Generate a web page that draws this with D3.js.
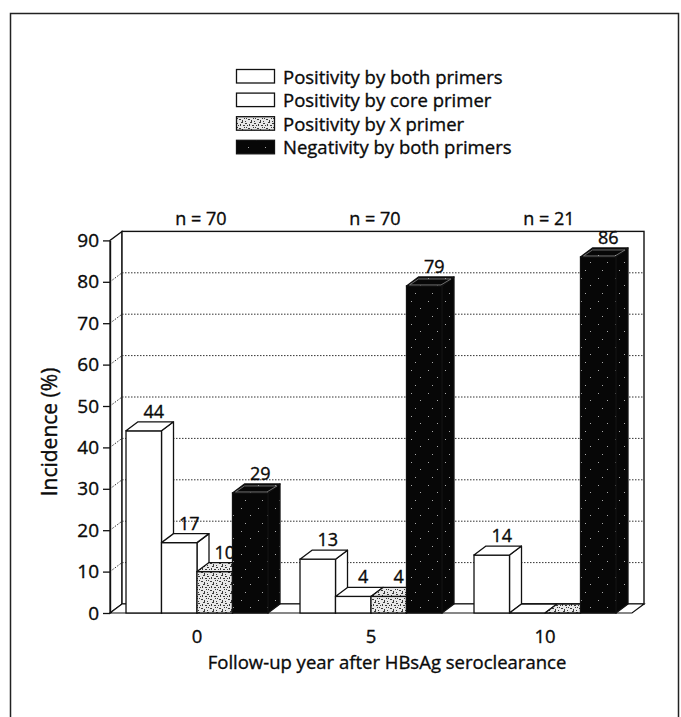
<!DOCTYPE html>
<html>
<head>
<meta charset="utf-8">
<script src="https://cdn.jsdelivr.net/npm/d3@7"></script>
<style>
  html, body { margin: 0; padding: 0; background: #fff; }
  svg text { font-family: "Open Sans", "DejaVu Sans", sans-serif; fill: #0a0a0a; font-weight: 400;
             stroke: #0a0a0a; stroke-width: 0.35px; }
</style>
</head>
<body>
<svg id="chart" width="681" height="717"></svg>
<script>
// Follow-up years and group sizes
const years = ["0", "5", "10"];
const groupSizes = ["n = 70", "n = 70", "n = 21"];

// Series (incidence, %)
const seriesNames = [
  "Positivity by both primers",
  "Positivity by core primer",
  "Positivity by X primer",
  "Negativity by both primers"
];
const bothPrimers = [44, 13, 14];
const corePrimer  = [17, 4, 0];
const xPrimer     = [10, 4, 0];
const negative    = [29, 79, 86];

const yTicks = [0, 10, 20, 30, 40, 50, 60, 70, 80, 90];

const seriesValues = [bothPrimers, corePrimer, xPrimer, negative];
const fills = ["#fff", "#fff", "url(#stipple)", "url(#dark)"];

const svg = d3.select("#chart");

// ---- fill textures ----
const defs = svg.append("defs");
const stip = defs.append("pattern").attr("id", "stipple")
  .attr("patternUnits", "userSpaceOnUse").attr("width", 9).attr("height", 9);
stip.append("rect").attr("width", 9).attr("height", 9).attr("fill", "#e8e8e8");
[[0,0,2,1],[4,1,1,2],[7,2,2,1],[1,4,1,1],[3,5,2,1],[6,6,1,2],[0,7,1,1],[5,8,2,1],[8,4,1,1],[2,2,1,1]]
  .forEach(([x, y, w, h]) => stip.append("rect").attr("x", x).attr("y", y)
    .attr("width", w).attr("height", h).attr("fill", "#3a3a3a"));

const dark = defs.append("pattern").attr("id", "dark")
  .attr("patternUnits", "userSpaceOnUse").attr("width", 17).attr("height", 23);
dark.append("rect").attr("width", 17).attr("height", 23).attr("fill", "#070707");
[[3,2],[12,9],[7,17]]
  .forEach(([x, y]) => dark.append("rect").attr("x", x).attr("y", y)
    .attr("width", 1).attr("height", 1).attr("fill", "#aaa"));

// ---- outer frame ----
svg.append("rect").attr("x", 10.5).attr("y", 13.5).attr("width", 668).attr("height", 720)
  .attr("fill", "none").attr("stroke", "#222").attr("stroke-width", 1.5);

// ---- scales ----
const DX = 12, DY = -9;          // 3D depth offset
const x0 = 110, x1 = 632;
const y = d3.scaleLinear().domain([0, 90]).range([613, 240.4]);
const gx = d3.scaleBand().domain(years).range([x0, x1]).paddingInner(0.184).paddingOuter(0.092);
const sx = d3.scaleBand().domain(d3.range(seriesNames.length)).range([0, gx.bandwidth()]);

const g = svg.append("g");
const line = "#111";

// ---- walls ----
g.append("polygon")
  .attr("points", [[x0, y(0)], [x0, y(90)], [x0 + DX, y(90) + DY], [x0 + DX, y(0) + DY]].join(" "))
  .attr("fill", "#fff").attr("stroke", line).attr("stroke-width", 1.2);
g.append("rect")
  .attr("x", x0 + DX).attr("y", y(90) + DY)
  .attr("width", x1 - x0).attr("height", y(0) - y(90))
  .attr("fill", "#fff").attr("stroke", line).attr("stroke-width", 1.4);

// dotted grid on back and side walls
const gridVals = yTicks.filter(v => v > 0 && v < 90);
g.selectAll(".gridBack").data(gridVals).join("line")
  .attr("x1", x0 + DX).attr("x2", x1 + DX)
  .attr("y1", d => y(d) + DY).attr("y2", d => y(d) + DY)
  .attr("stroke", "#333").attr("stroke-width", 1).attr("stroke-dasharray", "1.5,1.5");
g.selectAll(".gridSide").data(gridVals).join("line")
  .attr("x1", x0).attr("x2", x0 + DX)
  .attr("y1", d => y(d)).attr("y2", d => y(d) + DY)
  .attr("stroke", "#333").attr("stroke-width", 1).attr("stroke-dasharray", "1.5,1.5");

// floor
g.append("polygon")
  .attr("points", [[x0, y(0)], [x1, y(0)], [x1 + DX, y(0) + DY], [x0 + DX, y(0) + DY]].join(" "))
  .attr("fill", "#fff").attr("stroke", line).attr("stroke-width", 1.2);

// ---- y axis ----
const yAxis = g.append("g").attr("transform", `translate(${x0},0)`)
  .call(d3.axisLeft(y).tickValues(yTicks).tickSize(7).tickSizeOuter(0).tickPadding(4));
yAxis.select(".domain").attr("stroke", line).attr("stroke-width", 1.4);
yAxis.selectAll(".tick line").attr("stroke", line).attr("stroke-width", 1.3);
yAxis.selectAll(".tick text").attr("font-size", 19).attr("fill", "#0a0a0a")
  .attr("font-family", "\"Open Sans\", sans-serif");

// ---- bars ----
const bars = [];
years.forEach((yr, gi) => {
  seriesValues.forEach((vals, si) => {
    bars.push({ yr, si, v: vals[gi] });
  });
});

const barG = g.append("g");
bars.forEach(b => {
  const bx = gx(b.yr) + sx(b.si), w = sx.bandwidth();
  const top = y(b.v), base = y(0);
  const f = fills[b.si];
  const bg = barG.append("g");
  if (b.v > 0) {
    bg.append("polygon")
      .attr("points", [[bx + w, top], [bx + w + DX, top + DY], [bx + w + DX, base + DY], [bx + w, base]].join(" "))
      .attr("fill", f).attr("stroke", line).attr("stroke-width", 1.3).attr("stroke-linejoin", "round");
    bg.append("rect").attr("x", bx).attr("y", top).attr("width", w).attr("height", base - top)
      .attr("fill", f).attr("stroke", line).attr("stroke-width", 1.3);
  }
  bg.append("polygon")
    .attr("points", [[bx, top], [bx + DX, top + DY], [bx + w + DX, top + DY], [bx + w, top]].join(" "))
    .attr("fill", f).attr("stroke", line).attr("stroke-width", 1.3).attr("stroke-linejoin", "round");
  if (b.si === 3 && b.v > 0) {
    // lighter rim on the dark tops
    bg.append("polygon")
      .attr("points", [[bx + 3, top - 1], [bx + DX, top + DY + 2], [bx + w + DX - 3, top + DY + 2], [bx + w - 1, top - 1]].join(" "))
      .attr("fill", "none").attr("stroke", "#888").attr("stroke-width", 0.8);
  }
  if (b.v > 0) {
    bg.append("text")
      .attr("x", bx + w / 2 + DX / 2 + 4).attr("y", top + DY - 4)
      .attr("text-anchor", "middle").attr("font-size", 18)
      .text(b.v);
  }
});

// ---- group sizes above the plot ----
g.selectAll(".nlab").data(years).join("text")
  .attr("x", d => gx(d) + gx.bandwidth() / 2 + 4).attr("y", 225)
  .attr("text-anchor", "middle").attr("font-size", 18)
  .text((d, i) => groupSizes[i]);

// ---- category labels ----
g.selectAll(".xlab").data(years).join("text")
  .attr("x", d => gx(d) + gx.bandwidth() / 2).attr("y", 643)
  .attr("text-anchor", "middle").attr("font-size", 18.5)
  .text(d => d);

// ---- axis titles ----
svg.append("text")
  .attr("x", 387).attr("y", 669)
  .attr("text-anchor", "middle").attr("font-size", 18.5)
  .text("Follow-up year after HBsAg seroclearance");
svg.append("text")
  .attr("transform", "translate(57,432) rotate(-90)")
  .attr("text-anchor", "middle").attr("font-size", 21)
  .text("Incidence (%)");

// ---- legend ----
const lg = svg.append("g").attr("transform", "translate(236,69)");
const rowH = 23.6;
seriesNames.forEach((name, i) => {
  lg.append("rect").attr("x", 0.5).attr("y", i * rowH + 0.5).attr("width", 38).attr("height", 13.5)
    .attr("fill", fills[i]).attr("stroke", line).attr("stroke-width", 1.3);
  lg.append("text").attr("x", 47).attr("y", i * rowH + 14.5).attr("font-size", 18.5).text(name);
});
</script>
</body>
</html>
